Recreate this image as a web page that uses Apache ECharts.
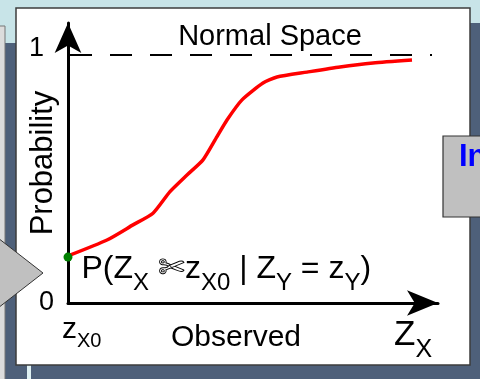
<!DOCTYPE html>
<html>
<head>
<meta charset="utf-8">
<style>
html,body{margin:0;padding:0;background:#4e607a;}
#main{width:480px;height:379px;}
</style>
<script src="https://cdn.jsdelivr.net/npm/echarts@6/dist/echarts.min.js"></script>
</head>
<body>
<div id="main"></div>
<script>
// observed Z_X (measured from z_X0) and the conditional probability
var observed = [0, 39, 65, 85, 102, 119, 135, 149, 159, 174, 195, 209, 239, 272, 305, 344];
var probability = [0.19, 0.254, 0.315, 0.362, 0.449, 0.516, 0.577, 0.671, 0.738, 0.819, 0.887, 0.911, 0.931, 0.952, 0.968, 0.98];
var startPoint = [0, 0.185];
var normalLevel = 1;
var normalFrom = 2, normalTo = 364;
var yTickLabels = {0: '{zero|0}', 1: '{one|1}'};

var font = 'Liberation Sans, Arial, sans-serif';
var curve = observed.map(function (x, i) { return [x, probability[i]]; });

var myChart = echarts.init(document.getElementById('main'));
var option = {
    backgroundColor: '#4e607a',
    animation: false,
    textStyle: {fontFamily: font, color: '#000'},
    grid: {left: 68, right: 42, top: 23, bottom: 76, containLabel: false, outerBoundsMode: 'none'},
    graphic: [
        {type: 'rect', z: -5, shape: {x: 0, y: 0, width: 480, height: 43}, style: {fill: '#c8e4e8'}},
        {type: 'rect', z: -4, shape: {x: 470, y: 23, width: 10, height: 30}, style: {fill: '#4e607a'}},
        {type: 'rect', z: -4, shape: {x: -2, y: 26, width: 7, height: 360}, style: {fill: '#dcdcdc', stroke: '#777', lineWidth: 1}},
        {type: 'rect', z: -4, shape: {x: 27, y: 364, width: 4, height: 20}, style: {fill: '#dff1f3'}},
        {type: 'rect', z: -3, shape: {x: 16, y: 8, width: 454, height: 357}, style: {fill: '#fff', stroke: '#3c3c3c', lineWidth: 1.5}},
        {type: 'rect', z: 50, shape: {x: 443, y: 136, width: 45, height: 81}, style: {fill: '#c0c0c0', stroke: '#333', lineWidth: 1.2}},
        {type: 'text', z: 51, style: {x: 459, y: 157, text: 'In', fill: '#0000ff', font: 'bold 31px ' + font, verticalAlign: 'middle'}},
        {type: 'polygon', z: 50, shape: {points: [[-2, 238], [43, 273], [-2, 308]]}, style: {fill: '#c0c0c0', stroke: '#333', lineWidth: 1}},
        {type: 'text', z: 10, style: {x: 270, y: 37, text: 'Normal Space', fill: '#000', font: '29px ' + font, align: 'center', verticalAlign: 'middle'}},
        {type: 'text', z: 10, style: {x: 394, y: 318, text: '{m|Z}{s|X}', fill: '#000', font: '35px ' + font,
            rich: {
                m: {fontSize: 35, fontFamily: font, fill: '#000', lineHeight: 38, verticalAlign: 'top'},
                s: {fontSize: 25, fontFamily: font, fill: '#000', lineHeight: 25, padding: [20, 0, 0, 0], verticalAlign: 'top'}
            }}}
    ],
    xAxis: {
        type: 'value',
        min: 0,
        max: 370,
        interval: 1000,
        name: 'Observed',
        nameLocation: 'middle',
        nameGap: 20,
        nameMoveOverlap: false,
        nameTextStyle: {fontSize: 30, fontFamily: font, color: '#000', padding: [0, 34, 0, 0]},
        splitLine: {show: false},
        axisTick: {show: false},
        axisLine: {show: true, symbol: ['none', 'arrow'], symbolSize: [19, 31], lineStyle: {color: '#000', width: 3}},
        axisLabel: {
            show: true,
            margin: 12,
            align: 'left',
            color: '#000',
            formatter: function (v) { return v === 0 ? '{z|z}{s|X0}' : ''; },
            rich: {
                z: {fontSize: 30, fontFamily: font, color: '#000', lineHeight: 30, verticalAlign: 'top', padding: [0, 0, 0, -6]},
                s: {fontSize: 20, fontFamily: font, color: '#000', lineHeight: 20, padding: [16, 0, 0, 0], verticalAlign: 'top'}
            }
        }
    },
    yAxis: {
        type: 'value',
        min: 0,
        max: 1.129,
        interval: 1,
        name: 'Probability',
        nameLocation: 'middle',
        nameRotate: 90,
        nameGap: 9,
        nameMoveOverlap: false,
        nameTextStyle: {fontSize: 31, fontFamily: font, color: '#000', padding: [0, 0, 0, 0]},
        splitLine: {show: false},
        axisTick: {show: false},
        axisLine: {show: true, symbol: ['none', 'arrow'], symbolSize: [20, 30], lineStyle: {color: '#000', width: 3}},
        axisLabel: {
            margin: 14,
            color: '#000',
            formatter: function (v) { return yTickLabels[v] || ''; },
            rich: {
                zero: {fontSize: 27, fontFamily: font, color: '#000'},
                one: {fontSize: 27, fontFamily: font, color: '#000', padding: [0, 10, 12, 0]}
            }
        }
    },
    series: [
        {
            type: 'line',
            data: curve,
            smooth: 0.2,
            symbol: 'none',
            clip: false,
            z: 5,
            lineStyle: {color: '#ff0000', width: 3.5},
            markLine: {
                silent: true,
                symbol: 'none',
                label: {show: false},
                lineStyle: {color: '#000', width: 2, type: [22, 18], opacity: 1},
                data: [[{coord: [normalFrom, normalLevel]}, {coord: [normalTo, normalLevel]}]]
            }
        },
        {
            type: 'scatter',
            data: [startPoint],
            symbol: 'circle',
            symbolSize: 9,
            z: 6,
            itemStyle: {color: '#008000', opacity: 1},
            label: {
                show: true,
                position: 'right',
                distance: 9,
                offset: [0, 14],
                color: '#000',
                opacity: 1,
                formatter: '{m|P(Z}{s|X}{m| ✄z}{s|X0}{m| | Z}{s|Y}{m| = z}{s|Y}{m|)}',
                rich: {
                    m: {fontSize: 32, fontFamily: font, color: '#000', lineHeight: 36, verticalAlign: 'top'},
                    s: {fontSize: 24, fontFamily: font, color: '#000', lineHeight: 24, padding: [18, 0, 0, 0], verticalAlign: 'top'}
                }
            }
        }
    ]
};
myChart.setOption(option);
</script>
</body>
</html>
